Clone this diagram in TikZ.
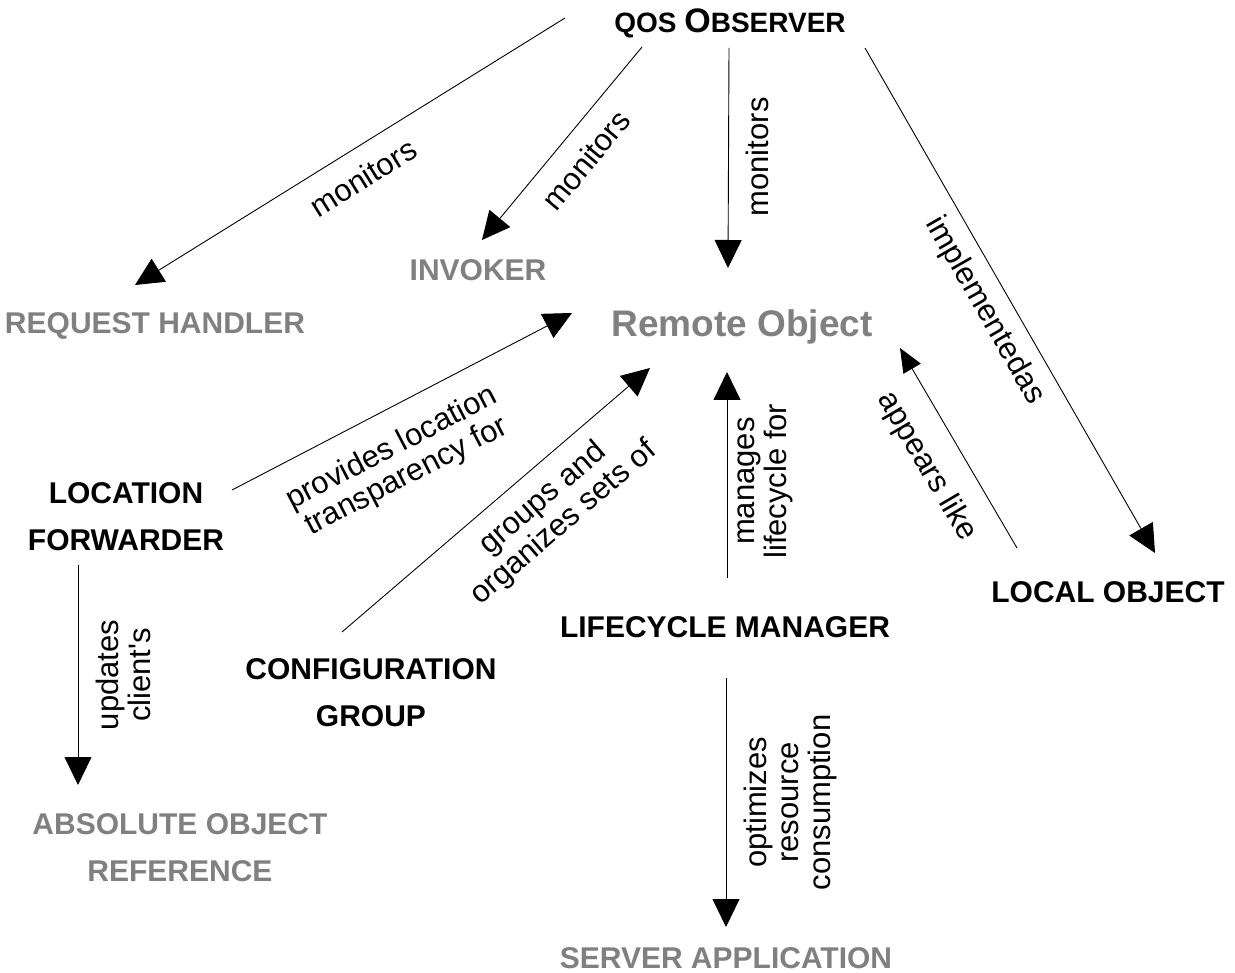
\documentclass[tikz,border=0pt]{standalone}
\usepackage{fontspec}
\setmainfont{Liberation Sans}[Ligatures=TeXOff]
\usetikzlibrary{arrows.meta}
\definecolor{rolegray}{RGB}{128,128,128}

\tikzset{
  concept/.style={font=\fontsize{30}{47}\selectfont\bfseries, align=center, inner sep=2pt},
  role/.style={concept, text=rolegray},
  rel/.style={-{Triangle[length=28pt,width=27pt]}, line width=0.9pt},
  relsmall/.style={-{Triangle[length=24pt,width=20pt]}, line width=0.9pt},
  lbl/.style={font=\fontsize{31}{32}\selectfont, align=center, inner sep=0pt},
}

\begin{document}
\begin{tikzpicture}[x=1pt, y=-1pt]
\useasboundingbox (0,0) rectangle (1235,973);

% participants of the pattern
\node[concept] (qos) at (730,23) {\fontsize{28}{30}\selectfont QOS \fontsize{34}{30}\selectfont O\fontsize{28}{30}\selectfont BSERVER};
\node[role] (invoker) at (478,270) {INVOKER};
\node[role] (reqh) at (155,326) {REQUEST HANDLER};
\node[role, font=\fontsize{37}{40}\selectfont\bfseries] (remote) at (742,327) {Remote Object};
\node[concept] (locfwd) at (126,517) {LOCATION\\FORWARDER};
\node[concept] (localobj) at (1108,592) {LOCAL OBJECT};
\node[concept] (lifecycle) at (725,627) {LIFECYCLE MANAGER};
\node[concept] (config) at (371,693) {CONFIGURATION\\GROUP};
\node[role] (absref) at (180,848) {ABSOLUTE OBJECT\\REFERENCE};
\node[role] (serverapp) at (726,958) {SERVER APPLICATION};

% relations from the observer
\draw[rel] ([shift={(-165,-5)}]qos.center) -- node[lbl, pos=.505, sloped, yshift=-29pt] {monitors} ([shift={(-20,-41)}]reqh.center);
\draw[rel] ([shift={(-88,24)}]qos.center) -- node[lbl, pos=.49, sloped, yshift=-29pt] {monitors} ([shift={(4,-30)}]invoker.center);
\draw[rel] ([shift={(-1,25)}]qos.center) -- node[lbl, pos=.495, rotate=90, yshift=-29pt] {monitors} ([shift={(-14,-59)}]remote.center);
\draw[rel] ([shift={(135,25)}]qos.center) -- node[lbl, pos=.493, sloped, yshift=-27pt] {implementedas} ([shift={(47,-39)}]localobj.center);

% relations towards the remote object
\draw[rel] ([shift={(106,-27)}]locfwd.center) -- node[lbl, pos=.42, sloped, yshift=-53pt] {provides location\\transparency for} ([shift={(-170,-14)}]remote.center);
\draw[rel] ([shift={(-29,-61)}]config.center) -- node[lbl, pos=.59, sloped, yshift=-46pt] {groups and\\organizes sets of} ([shift={(-92,41)}]remote.center);
\draw[rel] ([shift={(2,-49)}]lifecycle.center) -- node[lbl, pos=.47, rotate=90, yshift=-38pt] {manages\\lifecycle for} ([shift={(-15,45)}]remote.center);
\draw[relsmall] ([shift={(-91,-44)}]localobj.center) -- node[lbl, pos=.5, sloped, yshift=-37pt] {appears like} ([shift={(158,21)}]remote.center);

% lower relations
\draw[rel] ([shift={(-48,48)}]locfwd.center) -- node[lbl, pos=.5, rotate=90, yshift=-45pt] {updates\\client's} ([shift={(-102,-63)}]absref.center);
\draw[rel] ([shift={(1,51)}]lifecycle.center) -- node[lbl, pos=.5, rotate=90, yshift=-64pt] {optimizes\\resource\\consumption} ([shift={(0,-31)}]serverapp.center);
\end{tikzpicture}
\end{document}
